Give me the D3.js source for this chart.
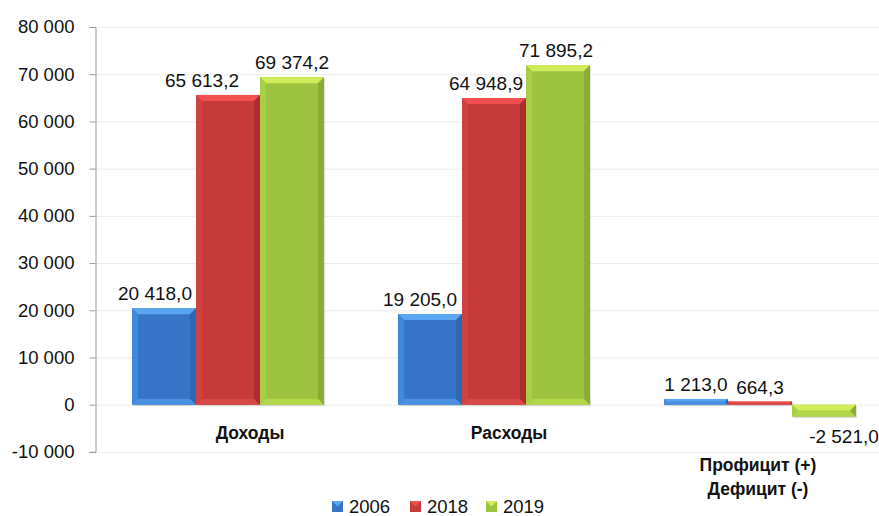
<!DOCTYPE html>
<html><head><meta charset="utf-8">
<script src="https://cdn.jsdelivr.net/npm/d3@7"></script>
<style>
html,body{margin:0;padding:0;background:#fff;}
svg{display:block;font-family:"Liberation Sans",Arial,sans-serif;}
</style></head>
<body>
<svg id="chart" width="879" height="516"></svg>
<script>
const categories = ["Доходы", "Расходы", "Профицит (+)\nДефицит (-)"];
const seriesNames = ["2006", "2018", "2019"];
const values2006 = [20418.0, 19205.0, 1213.0];
const values2018 = [65613.2, 64948.9, 664.3];
const values2019 = [69374.2, 71895.2, -2521.0];
const yTicks = [-10000, 0, 10000, 20000, 30000, 40000, 50000, 60000, 70000, 80000];

const seriesValues = [values2006, values2018, values2019];
const colors = [
  {body:"#3775c6", top:"#5aa6f0", bot:"#4a90e0", left:"#418adb", right:"#2f68b0"},
  {body:"#c63a3a", top:"#f25050", bot:"#d84646", left:"#d04242", right:"#aa2e2e"},
  {body:"#9cc440", top:"#d0ec58", bot:"#b0d64a", left:"#a8ce46", right:"#88ac36"}
];
// label nudges (px) per series, per category, to mimic the reference placement
const labelDx = [[-9, -10, 0], [-26, -8, 0], [0, -2, 20]];

const svg = d3.select("#chart");
const locale = d3.formatLocale({decimal:",", thousands:"\u00a0", grouping:[3], currency:["",""], minus:"-"});
const fmtTick = locale.format(",.0f");
const fmtVal = locale.format(",.1f");

const y = d3.scaleLinear().domain([-10000, 80000]).range([451.9, 27]);
const x0 = d3.scaleBand().domain(categories).range([95, 893]).paddingInner(0).paddingOuter(0);
const x1 = d3.scaleBand().domain(seriesNames).range([0, x0.bandwidth()]).paddingInner(0).paddingOuter(0.578);

// gridlines
svg.append("g").selectAll("line").data(yTicks).join("line")
  .attr("x1", 95).attr("x2", 879)
  .attr("y1", d => y(d) + 0.5).attr("y2", d => y(d) + 0.5)
  .attr("stroke", "#ececec").attr("stroke-width", 1);

// y axis
const yAxis = d3.axisLeft(y).tickValues(yTicks).tickFormat(fmtTick).tickSizeOuter(0).tickSize(6).tickPadding(15);
const gy = svg.append("g").attr("transform", "translate(95.5,0)").call(yAxis);
gy.select(".domain").attr("stroke", "#9a9a9a");
gy.selectAll(".tick line").attr("stroke", "#9a9a9a");
gy.selectAll(".tick text").attr("font-size", "18.5px").attr("fill", "#111")
  .attr("font-family", "'Liberation Sans',Arial,sans-serif");

// bars
const bars = [];
seriesValues.forEach((vals, si) => {
  vals.forEach((v, ci) => {
    bars.push({si, ci, v, cat: categories[ci], ser: seriesNames[si]});
  });
});

const gBars = svg.append("g");
const gLabels = svg.append("g");
bars.forEach(b => {
  const xl = x0(b.cat) + x1(b.ser);
  const w = x1.bandwidth();
  const yt = y(Math.max(0, b.v));
  const yb = y(Math.min(0, b.v));
  const h = yb - yt;
  const c = colors[b.si];
  const g = gBars.append("g");
  const bv = Math.min(6, h / 2);
  g.append("rect").attr("x", xl + 1).attr("y", yt + 1.5).attr("width", w).attr("height", h)
    .attr("fill", "rgba(0,0,0,0.12)");
  g.append("rect").attr("x", xl).attr("y", yt).attr("width", w).attr("height", h).attr("fill", c.body);
  const xr = xl + w;
  const poly = (pts, fill) => g.append("polygon").attr("points", pts.map(p => p.join(",")).join(" ")).attr("fill", fill);
  poly([[xl, yt], [xr, yt], [xr - bv, yt + bv], [xl + bv, yt + bv]], c.top);
  poly([[xl, yb], [xr, yb], [xr - bv, yb - bv], [xl + bv, yb - bv]], c.bot);
  poly([[xl, yt], [xl + bv, yt + bv], [xl + bv, yb - bv], [xl, yb]], c.left);
  poly([[xr, yt], [xr - bv, yt + bv], [xr - bv, yb - bv], [xr, yb]], c.right);

  const cx = xl + w / 2 + labelDx[b.si][b.ci];
  const t = gLabels.append("text").attr("font-size", "19px").attr("fill", "#111")
    .attr("text-anchor", "middle").text(fmtVal(b.v));
  if (b.v >= 0) {
    t.attr("x", cx).attr("y", yt - 8);
  } else {
    t.attr("x", cx).attr("y", yb + 26);
  }
});

// category labels
const catOffsets = [22, 15, -2];
const catBaselines = [439, 439, 471];
categories.forEach((c, i) => {
  const lines = c.split("\n");
  const t = svg.append("text").attr("font-size", "17.5px").attr("font-weight", "bold").attr("fill", "#111")
    .attr("text-anchor", "middle");
  lines.forEach((ln, j) => {
    t.append("tspan").attr("x", x0(c) + x0.bandwidth() / 2 + catOffsets[i])
      .attr("y", catBaselines[i] + j * 24).text(ln);
  });
});

// legend
const legX = [332, 410, 486];
seriesNames.forEach((s, i) => {
  const c = colors[i];
  const g = svg.append("g").attr("transform", `translate(${legX[i]},501)`);
  g.append("rect").attr("width", 11).attr("height", 11).attr("fill", c.body);
  g.append("polygon").attr("points", "0,0 11,0 5.5,5.5").attr("fill", c.top);
  g.append("text").attr("x", 17).attr("y", 11.5).attr("font-size", "18.5px").attr("fill", "#111").text(s);
});
</script>
</body></html>
